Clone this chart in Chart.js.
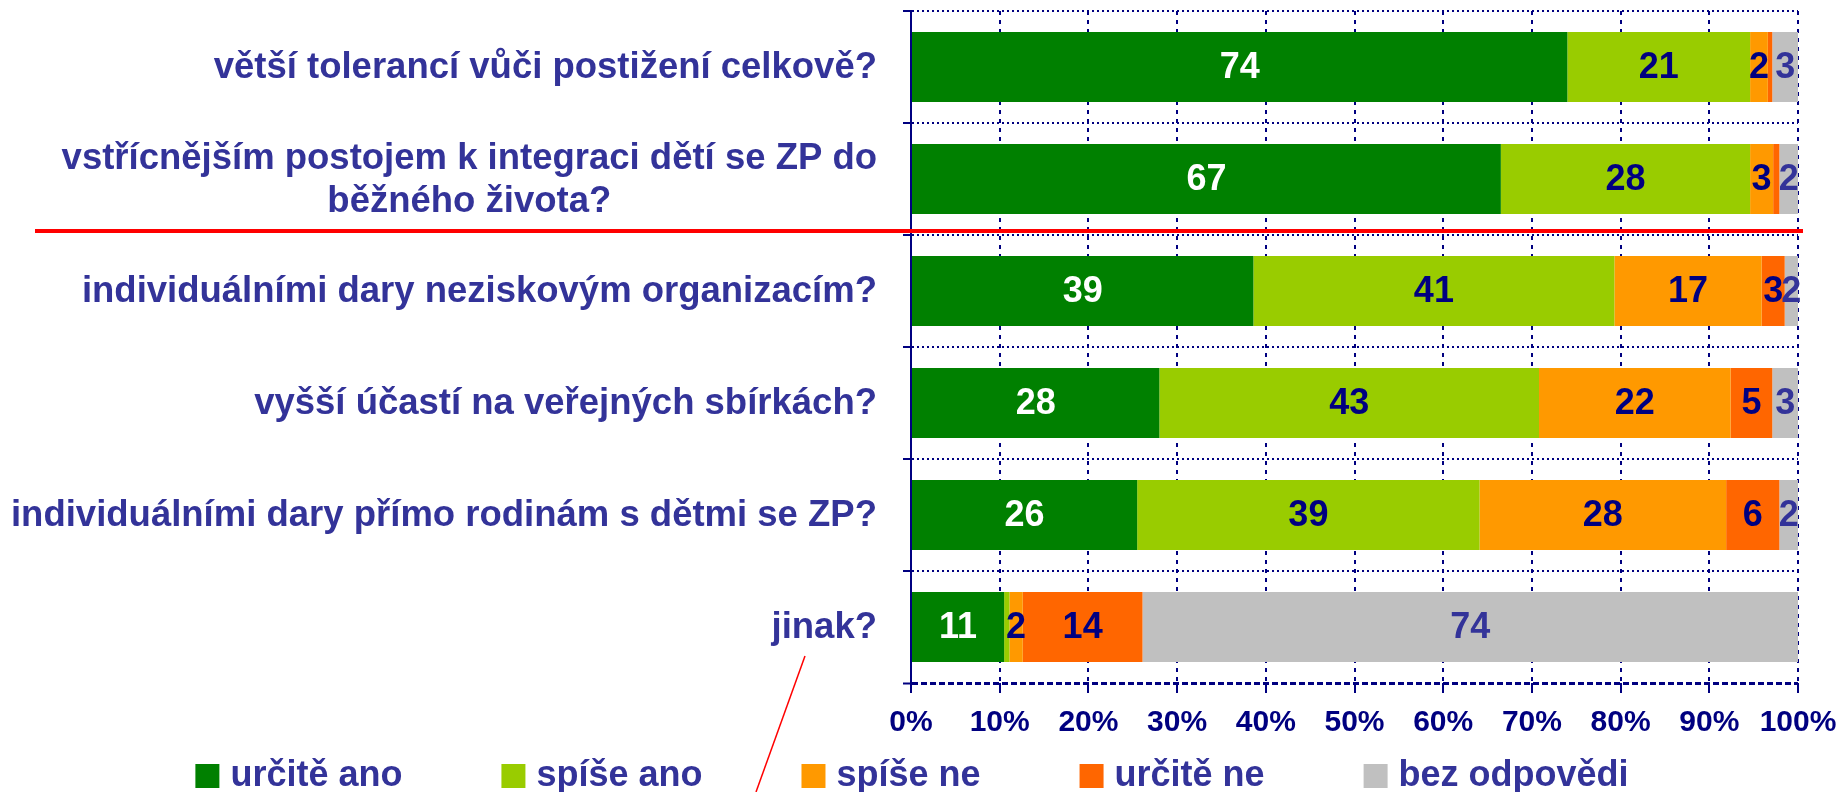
<!DOCTYPE html>
<html lang="cs">
<head>
<meta charset="utf-8">
<title>Graf</title>
<script src="https://cdn.jsdelivr.net/npm/chart.js@4.4.1/dist/chart.umd.min.js"></script>
<style>
  html, body { margin: 0; padding: 0; background: #fff; overflow: hidden; }
</style>
</head>
<body>
<canvas id="graf" width="1839" height="792"></canvas>
<script>
// ---------- DATA ----------
const kategorie = [
  'větší tolerancí vůči postižení celkově?',
  ['vstřícnějším postojem k integraci dětí se ZP do', 'běžného života?'],
  'individuálními dary neziskovým organizacím?',
  'vyšší účastí na veřejných sbírkách?',
  'individuálními dary přímo rodinám s dětmi se ZP?',
  'jinak?'
];
const nazvyRad = ['určitě ano', 'spíše ano', 'spíše ne', 'určitě ne', 'bez odpovědi'];

const urciteAno   = [74.0, 66.5, 38.6, 28.0, 25.5, 10.5];
const spiseAno    = [20.6, 28.1, 40.7, 42.8, 38.6,  0.6];
const spiseNe     = [ 2.0,  2.6, 16.6, 21.6, 27.8,  1.5];
const urciteNe    = [ 0.5,  0.7,  2.6,  4.7,  6.0, 13.5];
const bezOdpovedi = [ 2.9,  2.1,  1.5,  2.9,  2.1, 73.9];

const osaX = [0, 10, 20, 30, 40, 50, 60, 70, 80, 90, 100];

// ---------- STYL ----------
const NAVY = '#000080';
const MODRA = '#333399';
const FONT = '"Liberation Sans", Arial, sans-serif';
const barvy = ['#008000', '#99CC00', '#FF9900', '#FF6600', '#C0C0C0'];
const barvyPopisku = ['#FFFFFF', NAVY, NAVY, NAVY, MODRA];

const rady = [urciteAno, spiseAno, spiseNe, urciteNe, bezOdpovedi];

// popisky hodnot, kategorii, legenda a cervene cary
const popisky = {
  id: 'popisky',
  afterDatasetsDraw(chart) {
    const c = chart.ctx;
    c.save();
    c.font = 'bold 36px ' + FONT;
    c.textAlign = 'center';
    c.textBaseline = 'middle';
    chart.data.datasets.forEach((ds, i) => {
      const meta = chart.getDatasetMeta(i);
      meta.data.forEach((bar, j) => {
        const v = ds.data[j];
        if (v < 1) return;
        c.fillStyle = barvyPopisku[i];
        c.fillText(String(Math.round(v)), (bar.x + bar.base) / 2, bar.y + 1);
      });
    });
    c.restore();
  },
  afterDraw(chart) {
    const c = chart.ctx;
    const y = chart.scales.y;
    c.save();

    // nazvy kategorii
    c.font = 'bold 36.5px ' + FONT;
    c.fillStyle = MODRA;
    c.textBaseline = 'middle';
    const pravyOkraj = chart.chartArea.left - 34;
    kategorie.forEach((lab, i) => {
      const radky = Array.isArray(lab) ? lab : [lab];
      const yc = y.getPixelForValue(i);
      const sirka = Math.max(...radky.map(r => c.measureText(r).width));
      const stred = pravyOkraj - sirka / 2;
      c.textAlign = 'center';
      radky.forEach((r, k) => {
        c.fillText(r, stred, yc + (k - (radky.length - 1) / 2) * 43 + 1);
      });
    });

    // cervena vodorovna cara
    const yCara = (y.getPixelForValue(1) + y.getPixelForValue(2)) / 2 - 4;
    c.strokeStyle = '#FF0000';
    c.lineWidth = 4;
    c.beginPath();
    c.moveTo(35, yCara);
    c.lineTo(1803, yCara);
    c.stroke();

    // sikma cara
    c.lineWidth = 1.5;
    c.beginPath();
    c.moveTo(805, 656);
    c.lineTo(756, 792);
    c.stroke();

    // legenda
    c.font = 'bold 36px ' + FONT;
    const box = 24, mezera = 11, odstup = 99;
    const sirky = nazvyRad.map(t => box + mezera + c.measureText(t).width);
    const celkem = sirky.reduce((a, b) => a + b, 0) + odstup * (nazvyRad.length - 1);
    let x = 912 - celkem / 2;
    const yLeg = 776;
    c.textAlign = 'left';
    nazvyRad.forEach((t, i) => {
      c.fillStyle = barvy[i];
      c.fillRect(x, yLeg - box / 2, box, box);
      c.fillStyle = MODRA;
      c.fillText(t, x + box + mezera, yLeg);
      x += sirky[i] + odstup;
    });

    c.restore();
  }
};

const ctx = document.getElementById('graf').getContext('2d');
const chart = new Chart(ctx, {
  type: 'bar',
  data: {
    labels: kategorie,
    datasets: rady.map((d, i) => ({
      label: nazvyRad[i],
      data: d,
      backgroundColor: barvy[i],
      borderWidth: 0,
      categoryPercentage: 1,
      barPercentage: 0.625
    }))
  },
  options: {
    indexAxis: 'y',
    responsive: false,
    animation: false,
    layout: { padding: { top: 11, right: 41, bottom: 49, left: 0 } },
    plugins: { legend: { display: false }, tooltip: { enabled: false } },
    scales: {
      x: {
        stacked: true,
        min: 0,
        max: 100,
        afterBuildTicks: s => { s.ticks = osaX.map(v => ({ value: v })); },
        ticks: {
          callback: v => v + '%',
          color: NAVY,
          font: { family: FONT, size: 30, weight: 'bold' },
          padding: 12,
          maxRotation: 0,
          autoSkip: false
        },
        grid: { color: NAVY, lineWidth: 2, tickLength: 10, tickColor: NAVY, tickWidth: 2, tickBorderDash: [] },
        border: { display: false, color: NAVY, width: 3, dash: [4, 5] },
        afterFit: s => { s.height = 60; s.paddingLeft = 0; s.paddingRight = 0; }
      },
      y: {
        stacked: true,
        ticks: { display: false },
        grid: {
          offset: true, color: NAVY,
          // posledni cara (spodni osa) je silnejsi a carkovana
          lineWidth: c => c.type === 'tick' ? 2 : 3,
          tickLength: 8, tickColor: NAVY, tickWidth: 2, tickBorderDash: []
        },
        border: { color: NAVY, width: 2, dash: c => c.type === 'tick' ? [2, 3] : [6, 3] },
        afterFit: s => { s.width = 911; }
      }
    }
  },
  plugins: [popisky]
});
</script>
</body>
</html>
